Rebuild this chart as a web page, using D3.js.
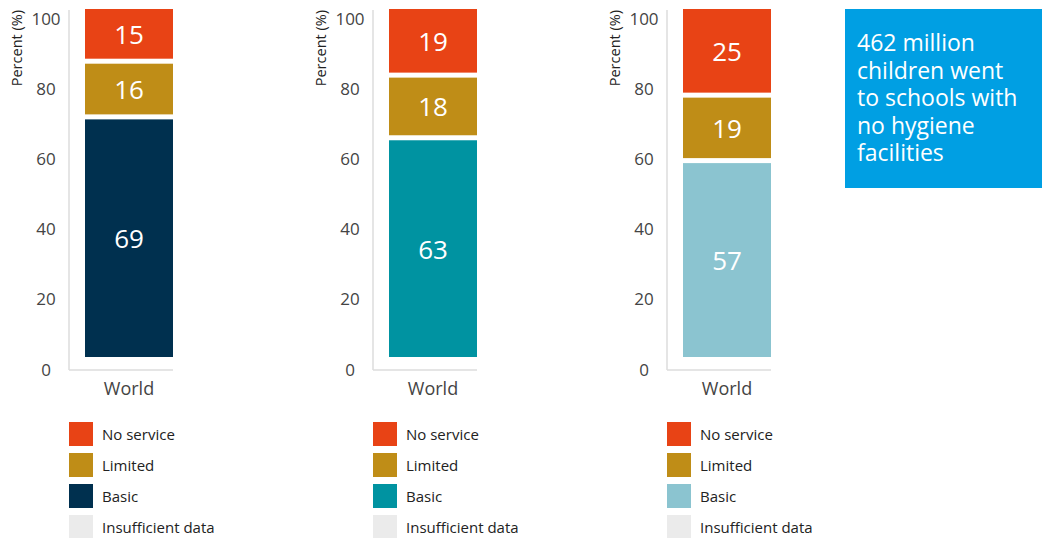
<!DOCTYPE html>
<html>
<head>
<meta charset="utf-8">
<script src="https://cdn.jsdelivr.net/npm/d3@7"></script>
<style>
  html, body { margin: 0; padding: 0; background: #fff; }
  svg { display: block; font-family: "Open Sans", "Noto Sans", sans-serif; }
</style>
</head>
<body>
<svg id="chart" width="1042" height="538"></svg>
<script>
// Service levels, stacked bottom to top
const levels = ["Basic", "Limited", "No service"];
const legendLabels = ["No service", "Limited", "Basic", "Insufficient data"];
const categories = ["World"];
const yTicks = [0, 20, 40, 60, 80, 100];

// Values (%) for each of the three panels
const panelA = { "Basic": 69, "Limited": 16, "No service": 15 };
const panelB = { "Basic": 63, "Limited": 18, "No service": 19 };
const panelC = { "Basic": 57, "Limited": 19, "No service": 25 };

const basicColors = ["#00304f", "#0093a1", "#8bc4d0"];
const sharedColors = { "No service": "#e84315", "Limited": "#bf8d17", "Insufficient data": "#ebebeb" };

const calloutLines = ["462 million", "children went", "to schools with", "no hygiene", "facilities"];

const panels = [
  { data: panelA, axisX: 69, basic: basicColors[0] },
  { data: panelB, axisX: 373, basic: basicColors[1] },
  { data: panelC, axisX: 667, basic: basicColors[2] }
];

const svg = d3.select("#chart");
const gap = 5;

// Tick label positions and bar extents
const yAxisScale = d3.scaleLinear().domain([0, 100]).range([369, 18]);
const yBar = d3.scaleLinear().domain([0, 1]).range([357, 9]);

panels.forEach(p => {
  const g = svg.append("g");
  const color = d3.scaleOrdinal()
    .domain(["No service", "Limited", "Basic", "Insufficient data"])
    .range([sharedColors["No service"], sharedColors["Limited"], p.basic, sharedColors["Insufficient data"]]);

  const x = d3.scaleBand().domain(categories).range([p.axisX + 16, p.axisX + 104]).padding(0);

  // Axis lines
  g.append("line")
    .attr("x1", p.axisX).attr("x2", p.axisX)
    .attr("y1", 10).attr("y2", 370)
    .attr("stroke", "#dcdcdc").attr("stroke-width", 1.5);
  g.append("line")
    .attr("x1", p.axisX).attr("x2", p.axisX + 104)
    .attr("y1", 370).attr("y2", 370)
    .attr("stroke", "#dcdcdc").attr("stroke-width", 1.5);

  // Tick labels
  g.selectAll("text.tick").data(yTicks).join("text")
    .attr("class", "tick")
    .attr("x", p.axisX - 23)
    .attr("y", d => yAxisScale(d))
    .attr("text-anchor", "middle")
    .attr("dominant-baseline", "central")
    .attr("font-size", 17)
    .attr("fill", "#444")
    .text(d => d);

  // Axis title
  g.append("text")
    .attr("transform", `translate(${p.axisX - 53},10) rotate(-90)`)
    .attr("text-anchor", "end")
    .attr("dominant-baseline", "central")
    .attr("font-size", 14.5)
    .attr("fill", "#222")
    .text("Percent (%)");

  // Stacked bar
  const rows = categories.map(c => Object.assign({ category: c }, p.data));
  const series = d3.stack().keys(levels).offset(d3.stackOffsetExpand)(rows);

  series.forEach(s => {
    s.forEach(d => {
      const top = yBar(d[1]) + (d[1] < 1 ? gap / 2 : 0);
      const bottom = yBar(d[0]) - (d[0] > 0 ? gap / 2 : 0);
      g.append("rect")
        .attr("x", x(d.data.category))
        .attr("width", x.bandwidth())
        .attr("y", top)
        .attr("height", bottom - top)
        .attr("fill", color(s.key));
      g.append("text")
        .attr("x", x(d.data.category) + x.bandwidth() / 2)
        .attr("y", (top + bottom) / 2)
        .attr("text-anchor", "middle")
        .attr("dominant-baseline", "central")
        .attr("font-size", 26)
        .attr("fill", "#fff")
        .text(d.data[s.key]);
    });
  });

  // Category label
  g.append("text")
    .attr("x", x("World") + x.bandwidth() / 2)
    .attr("y", 388)
    .attr("text-anchor", "middle")
    .attr("dominant-baseline", "central")
    .attr("font-size", 18)
    .attr("fill", "#444")
    .text("World");

  // Legend
  const lg = g.append("g");
  legendLabels.forEach((lab, i) => {
    const yy = 422 + i * 31;
    lg.append("rect")
      .attr("x", p.axisX).attr("y", yy)
      .attr("width", 24).attr("height", 24)
      .attr("fill", color(lab));
    lg.append("text")
      .attr("x", p.axisX + 33).attr("y", yy + 12)
      .attr("dominant-baseline", "central")
      .attr("font-size", 15)
      .attr("fill", "#222")
      .text(lab);
  });
});

// Callout box
svg.append("rect")
  .attr("x", 845).attr("y", 9)
  .attr("width", 197).attr("height", 179)
  .attr("fill", "#009fe3");
svg.append("text")
  .attr("x", 857).attr("y", 51)
  .attr("font-size", 23)
  .attr("fill", "#fff")
  .selectAll("tspan").data(calloutLines).join("tspan")
  .attr("x", 857)
  .attr("dy", (d, i) => i === 0 ? 0 : 27.5)
  .text(d => d);
</script>
</body>
</html>
